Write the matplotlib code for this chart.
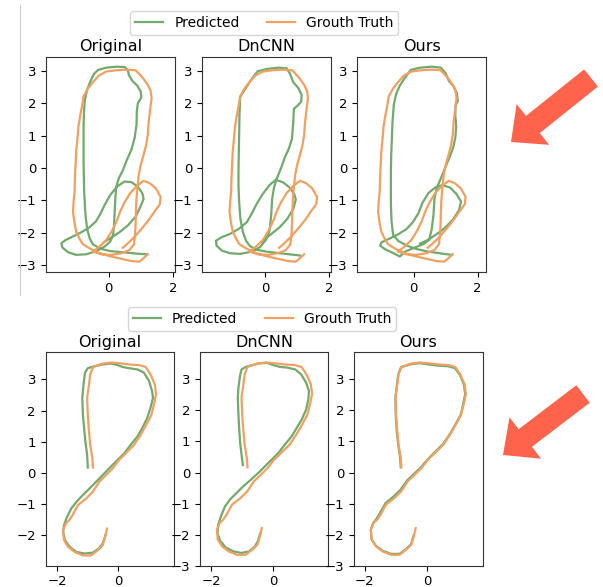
import numpy as np
import matplotlib
matplotlib.use("Agg")
import matplotlib.pyplot as plt
from matplotlib.patches import FancyArrow
from matplotlib.lines import Line2D
from matplotlib.transforms import IdentityTransform
from matplotlib.ticker import MultipleLocator

# ---- data ----
titles = ["Original", "DnCNN", "Ours"]
labels = ["Predicted", "Grouth Truth"]

# top row: ground truth trajectory (same in all three panels)
gt_top = [
    (1.22, -2.67), (1.09, -2.79), (0.96, -2.90), (0.71, -2.88), (0.39, -2.81),
    (0.08, -2.74), (-0.18, -2.67), (-0.44, -2.57), (-0.64, -2.46), (-0.80, -2.36),
    (-0.90, -2.20), (-1.01, -1.97), (-1.07, -1.66), (-1.11, -1.35), (-1.09, -1.04),
    (-1.06, -0.73), (-1.05, -0.32), (-1.03, 0.09), (-1.01, 0.51), (-0.97, 0.92),
    (-0.94, 1.28), (-0.88, 1.64), (-0.82, 1.95), (-0.78, 2.21), (-0.64, 2.46),
    (-0.49, 2.65), (-0.30, 2.86), (-0.07, 2.98), (0.24, 3.02), (0.55, 3.04),
    (0.84, 3.02), (0.96, 2.90), (1.09, 2.75), (1.22, 2.57), (1.31, 2.38),
    (1.34, 2.16), (1.30, 1.85), (1.25, 1.43), (1.22, 1.02), (1.17, 0.71),
    (1.09, 0.40), (1.00, 0.09), (0.94, -0.22), (0.90, -0.58), (0.87, -0.94),
    (0.85, -1.35), (0.84, -1.76), (0.82, -2.12), (0.79, -2.36), (0.65, -2.54),
    (0.39, -2.64), (0.08, -2.69), (-0.23, -2.67), (-0.49, -2.59), (-0.28, -2.43),
    (-0.07, -2.23), (0.11, -1.94), (0.26, -1.63), (0.37, -1.33), (0.50, -1.06),
    (0.67, -0.78), (0.88, -0.56), (1.09, -0.40), (1.28, -0.47), (1.47, -0.63),
    (1.62, -0.89), (1.60, -1.12), (1.43, -1.35), (1.25, -1.61), (1.02, -1.89),
    (0.78, -2.16), (0.57, -2.36), (0.44, -2.47),
]

pred_top_original = [
    (1.17, -2.67), (0.86, -2.65), (0.45, -2.61), (0.03, -2.57), (-0.28, -2.49),
    (-0.49, -2.36), (-0.59, -2.18), (-0.66, -1.92), (-0.71, -1.56), (-0.74, -1.14),
    (-0.76, -0.73), (-0.77, -0.32), (-0.78, 0.20), (-0.78, 0.71), (-0.78, 1.23),
    (-0.77, 1.69), (-0.74, 2.10), (-0.67, 2.41), (-0.57, 2.67), (-0.46, 2.90),
    (-0.33, 3.03), (-0.07, 3.10), (0.24, 3.13), (0.50, 3.12), (0.60, 3.03),
    (0.63, 2.88), (0.74, 2.69), (0.89, 2.55), (1.00, 2.36), (1.02, 2.18),
    (0.91, 2.00), (0.88, 1.74), (0.87, 1.33), (0.81, 0.92), (0.71, 0.56),
    (0.57, 0.25), (0.45, -0.06), (0.32, -0.32), (0.24, -0.58), (0.21, -0.94),
    (0.19, -1.35), (0.17, -1.76), (0.14, -2.07), (0.05, -2.28), (-0.12, -2.43),
    (-0.38, -2.57), (-0.69, -2.67), (-1.01, -2.69), (-1.26, -2.61), (-1.44, -2.46),
    (-1.47, -2.33), (-1.34, -2.23), (-1.11, -2.12), (-0.85, -1.99), (-0.61, -1.85),
    (-0.40, -1.66), (-0.26, -1.43), (-0.12, -1.14), (0.05, -0.84), (0.26, -0.58),
    (0.50, -0.42), (0.71, -0.44), (0.91, -0.58), (1.05, -0.78), (1.09, -0.96),
    (0.98, -1.23), (0.84, -1.51), (0.60, -1.78), (0.34, -1.99), (0.08, -2.16),
    (-0.12, -2.28),
]

pred_top_dncnn = [
    (1.09, -2.71), (0.83, -2.68), (0.47, -2.64), (0.05, -2.59), (-0.26, -2.53),
    (-0.47, -2.42), (-0.59, -2.26), (-0.69, -1.99), (-0.77, -1.58), (-0.81, -1.06),
    (-0.83, -0.55), (-0.83, -0.03), (-0.82, 0.49), (-0.81, 1.00), (-0.80, 1.62),
    (-0.78, 2.19), (-0.62, 2.44), (-0.42, 2.75), (-0.23, 2.99), (0.05, 3.06),
    (0.42, 3.10), (0.67, 3.08), (0.78, 2.91), (0.88, 2.65), (1.04, 2.47),
    (1.14, 2.26), (1.13, 2.05), (1.02, 1.93), (0.90, 1.83), (0.88, 1.41),
    (0.84, 0.90), (0.74, 0.59), (0.62, 0.33), (0.49, -0.03), (0.36, -0.34),
    (0.28, -0.60), (0.22, -0.96), (0.19, -1.47), (0.14, -1.94), (0.03, -2.22),
    (-0.16, -2.45), (-0.42, -2.59), (-0.78, -2.66), (-1.09, -2.64), (-1.35, -2.56),
    (-1.52, -2.40), (-1.53, -2.25), (-1.35, -2.14), (-1.09, -2.04), (-0.80, -1.87),
    (-0.57, -1.68), (-0.42, -1.42), (-0.26, -1.11), (-0.07, -0.80), (0.14, -0.53),
    (0.33, -0.37), (0.55, -0.44), (0.76, -0.60), (0.91, -0.80), (0.96, -0.98),
    (0.88, -1.27), (0.69, -1.58), (0.45, -1.84), (0.16, -2.07), (-0.10, -2.28),
]

pred_top_ours = [
    (1.19, -2.69), (0.88, -2.65), (0.46, -2.59), (0.09, -2.51), (-0.22, -2.40),
    (-0.48, -2.26), (-0.64, -2.07), (-0.69, -1.66), (-0.71, -1.14), (-0.71, -0.63),
    (-0.71, -0.11), (-0.70, 0.40), (-0.68, 0.92), (-0.66, 1.43), (-0.62, 1.95),
    (-0.55, 2.28), (-0.43, 2.55), (-0.27, 2.79), (-0.09, 3.03), (0.20, 3.10),
    (0.56, 3.13), (0.85, 3.10), (1.00, 2.93), (1.10, 2.69), (1.25, 2.52),
    (1.35, 2.31), (1.38, 2.07), (1.31, 1.93), (1.30, 1.64), (1.33, 1.28),
    (1.30, 0.92), (1.23, 0.61), (1.13, 0.35), (1.02, 0.09), (0.94, -0.11),
    (0.83, -0.37), (0.72, -0.63), (0.65, -0.94), (0.62, -1.45), (0.56, -1.92),
    (0.48, -2.23), (0.30, -2.36), (0.04, -2.46), (-0.27, -2.59), (-0.43, -2.74),
    (-0.69, -2.61), (-0.90, -2.51), (-1.05, -2.40), (-1.00, -2.30), (-0.74, -2.18),
    (-0.48, -2.05), (-0.22, -1.89), (-0.01, -1.66), (0.15, -1.40), (0.27, -1.09),
    (0.46, -0.78), (0.67, -0.61), (0.90, -0.53), (1.14, -0.61), (1.34, -0.81),
    (1.48, -1.04), (1.42, -1.30), (1.22, -1.61), (0.96, -1.87), (0.69, -2.07),
    (0.44, -2.23), (0.20, -2.34),
]

# bottom row: ground truth trajectory (same in all three panels)
gt_bot = [
    (-0.83, 0.17), (-0.85, 0.47), (-0.92, 0.90), (-0.96, 1.33), (-1.00, 1.87),
    (-1.02, 2.41), (-0.96, 2.84), (-0.92, 3.16), (-0.83, 3.40), (-0.51, 3.51),
    (-0.24, 3.54), (0.03, 3.52), (0.36, 3.48), (0.68, 3.46), (0.90, 3.40),
    (1.06, 3.16), (1.20, 2.84), (1.24, 2.52), (1.17, 2.19), (1.09, 1.87),
    (0.95, 1.60), (0.74, 1.23), (0.52, 0.90), (0.25, 0.63), (0.03, 0.42),
    (-0.18, 0.15), (-0.40, -0.07), (-0.62, -0.28), (-0.83, -0.60), (-1.05, -0.82),
    (-1.32, -1.03), (-1.50, -1.36), (-1.61, -1.52), (-1.72, -1.62), (-1.81, -1.84),
    (-1.78, -2.16), (-1.64, -2.38), (-1.43, -2.54), (-1.16, -2.65), (-0.89, -2.65),
    (-0.67, -2.48), (-0.51, -2.32), (-0.43, -2.05), (-0.37, -1.79),
]

pred_bot_original = [
    (-1.00, 0.17), (-1.02, 0.58), (-1.08, 1.01), (-1.12, 1.44), (-1.16, 1.87),
    (-1.18, 2.41), (-1.14, 2.84), (-1.09, 3.22), (-1.00, 3.36), (-0.83, 3.41),
    (-0.51, 3.48), (-0.24, 3.51), (-0.02, 3.46), (0.14, 3.40), (0.36, 3.36),
    (0.63, 3.32), (0.84, 3.22), (1.01, 2.95), (1.11, 2.62), (1.14, 2.41),
    (1.06, 2.09), (0.95, 1.76), (0.79, 1.44), (0.63, 1.17), (0.41, 0.90),
    (0.20, 0.63), (-0.02, 0.42), (-0.24, 0.20), (-0.45, -0.01), (-0.67, -0.23),
    (-0.94, -0.50), (-1.16, -0.71), (-1.37, -0.93), (-1.54, -1.14), (-1.70, -1.46),
    (-1.78, -1.68), (-1.81, -1.89), (-1.75, -2.16), (-1.59, -2.38), (-1.37, -2.54),
    (-1.10, -2.59), (-0.83, -2.56), (-0.64, -2.43), (-0.51, -2.27), (-0.42, -2.00),
]

pred_bot_dncnn = [
    (-0.98, 0.24), (-1.02, 0.58), (-1.07, 1.01), (-1.10, 1.50), (-1.12, 1.87),
    (-1.14, 2.41), (-1.12, 2.73), (-1.07, 3.11), (-1.02, 3.32), (-0.86, 3.41),
    (-0.48, 3.51), (-0.21, 3.53), (0.00, 3.46), (0.21, 3.40), (0.43, 3.38),
    (0.70, 3.32), (0.89, 3.16), (1.05, 2.89), (1.14, 2.62), (1.12, 2.36),
    (1.05, 2.03), (0.91, 1.71), (0.75, 1.44), (0.59, 1.17), (0.37, 0.90),
    (0.16, 0.63), (-0.05, 0.42), (-0.27, 0.20), (-0.48, -0.01), (-0.72, -0.23),
    (-0.96, -0.44), (-1.18, -0.66), (-1.39, -0.87), (-1.55, -1.09), (-1.68, -1.41),
    (-1.77, -1.68), (-1.79, -1.95), (-1.71, -2.19), (-1.53, -2.41), (-1.28, -2.54),
    (-1.02, -2.59), (-0.78, -2.54), (-0.61, -2.40), (-0.50, -2.22), (-0.42, -1.95),
]

pred_bot_ours = [
    (-0.85, 0.17), (-0.87, 0.47), (-0.93, 0.90), (-0.98, 1.33), (-1.01, 1.87),
    (-1.02, 2.40), (-0.97, 2.84), (-0.93, 3.16), (-0.84, 3.39), (-0.51, 3.49),
    (-0.24, 3.52), (0.03, 3.48), (0.36, 3.44), (0.68, 3.42), (0.89, 3.36),
    (1.05, 3.14), (1.18, 2.83), (1.22, 2.52), (1.15, 2.19), (1.08, 1.87),
    (0.94, 1.61), (0.73, 1.24), (0.51, 0.92), (0.24, 0.65), (0.02, 0.43),
    (-0.20, 0.17), (-0.42, -0.04), (-0.64, -0.25), (-0.86, -0.56), (-1.08, -0.77),
    (-1.34, -0.99), (-1.52, -1.31), (-1.63, -1.49), (-1.73, -1.62), (-1.81, -1.84),
    (-1.79, -2.15), (-1.65, -2.36), (-1.43, -2.52), (-1.16, -2.62), (-0.89, -2.62),
    (-0.68, -2.47), (-0.52, -2.31), (-0.44, -2.04),
]

# ---- layout (figure fractions) & limits ----
W_PX, H_PX = 603, 587
GREEN = "#72a96c"
ORANGE = "#f0a162"
ARROW_RED = "#ff634b"

rows = [
    dict(
        gt=gt_top,
        preds=[pred_top_original, pred_top_dncnn, pred_top_ours],
        lefts=[0.0763, 0.3350, 0.5920],
        width=0.2145,
        bottom=0.5366, height=0.3663,
        xlims=[(-1.95, 2.08), (-1.97, 2.07), (-1.77, 2.27)],
        ylims=[(-3.22, 3.43)] * 3,
        legend_y=0.961, legend_x=0.4386,
    ),
    dict(
        gt=gt_bot,
        preds=[pred_bot_original, pred_bot_dncnn, pred_bot_ours],
        lefts=[0.0758, 0.3317, 0.5876],
        width=0.2128,
        bottom=0.0363, height=0.3635,
        xlims=[(-2.38, 1.83), (-2.35, 1.76), (-2.34, 1.78)],
        ylims=[(-2.98, 3.87), (-3.0, 3.87), (-3.0, 3.87)],
        legend_y=0.4566, legend_x=0.4348,
    ),
]

fig = plt.figure(figsize=(W_PX / 100, H_PX / 100), dpi=100)

for row in rows:
    gt = np.array(row["gt"])
    for k in range(3):
        ax = fig.add_axes([row["lefts"][k], row["bottom"], row["width"], row["height"]])
        pr = np.array(row["preds"][k])
        ax.plot(pr[:, 0], pr[:, 1], color=GREEN, lw=1.6, label=labels[0])
        ax.plot(gt[:, 0], gt[:, 1], color=ORANGE, lw=1.6, label=labels[1])
        ax.set_xlim(*row["xlims"][k])
        ax.set_ylim(*row["ylims"][k])
        ax.xaxis.set_major_locator(MultipleLocator(2))
        ax.yaxis.set_major_locator(MultipleLocator(1))
        ax.tick_params(labelsize=9.5, length=3.5, width=0.8)
        ax.set_title(titles[k], fontsize=11.5, pad=4)
        for sp in ax.spines.values():
            sp.set_color("#333333")
            sp.set_linewidth(0.8)
    handles = [Line2D([], [], color=GREEN, lw=1.6), Line2D([], [], color=ORANGE, lw=1.6)]
    fig.legend(handles, labels, loc="center", ncol=2, fontsize=10,
               bbox_to_anchor=(row["legend_x"], row["legend_y"]),
               frameon=True, borderpad=0.35, columnspacing=2.0, handletextpad=0.8)

# red arrows (display pixels, origin bottom-left)
arrows = [
    dict(x=591, y=H_PX - 78, dx=-80, dy=-64),
    dict(x=583, y=H_PX - 394, dx=-80, dy=-61),
]
for a in arrows:
    fig.add_artist(FancyArrow(a["x"], a["y"], a["dx"], a["dy"], width=22,
                              head_width=52, head_length=28,
                              length_includes_head=True, color=ARROW_RED,
                              lw=0, transform=IdentityTransform()))

# thin grey separator on the left of the top row
fig.add_artist(Line2D([20, 20], [H_PX - 5, H_PX - 295], color="#cccccc", lw=0.8,
                      transform=IdentityTransform()))

fig.savefig("out.png", dpi=100)
